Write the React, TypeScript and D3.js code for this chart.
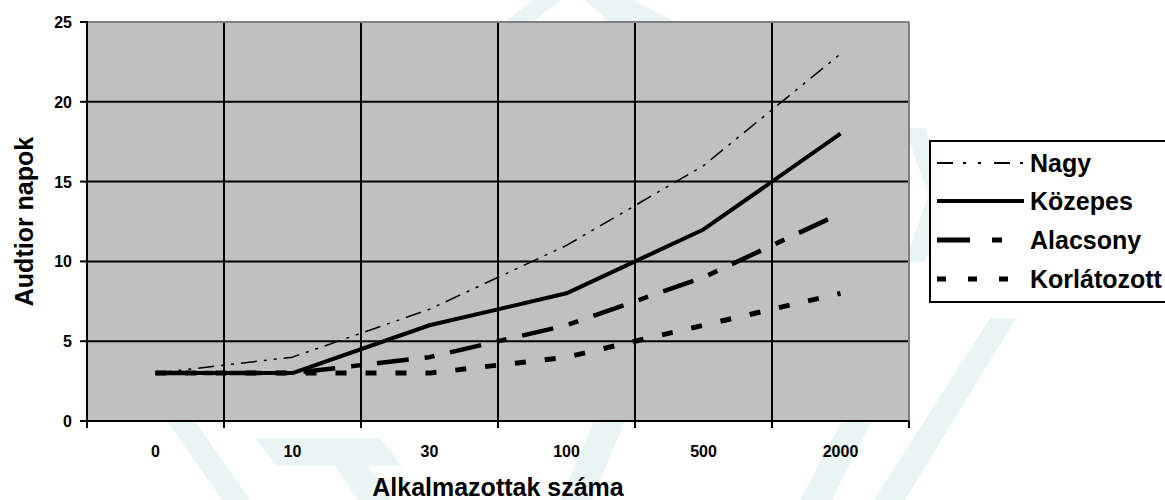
import * as d3 from "d3";

// categories and series
const categories = ["0", "10", "30", "100", "500", "2000"];
const nagy = [3, 4, 7, 11, 16, 23];
const kozepes = [3, 3, 6, 8, 12, 18];
const alacsony = [3, 3, 4, 6, 9, 13];
const korlatozott = [3, 3, 3, 4, 6, 8];
const yTicks = [0, 5, 10, 15, 20, 25];

const seriesNames = ["Nagy", "Közepes", "Alacsony", "Korlátozott"];
const seriesValues = [nagy, kozepes, alacsony, korlatozott];

const styles = [
  { width: 1.5, dash: "16 7 3 7 3 7", legendWidth: 2, legendDash: "16 10 3 12 3 13" },
  { width: 4, dash: "", legendWidth: 4, legendDash: "" },
  { width: 4.5, dash: "32 16 10 16", legendWidth: 5, legendDash: "33 22 10 23" },
  { width: 5, dash: "11 19", legendWidth: 5, legendDash: "9 22" },
];

// faint watermark bands (decoration only)
const watermark = [
  "504,22 533,22 561,0 533,0",
  "609,22 676,22 633,0 585,0",
  "167,421 195,421 250,500 222,500",
  "255,438 380,438 402,466 277,466",
  "335,466 368,466 392,500 358,500",
  "560,500 592,500 625,421 594,421",
  "800,500 832,500 872,421 842,421",
  "905,128 925,128 948,195 925,262 905,262 928,195",
  "990,318 1016,318 905,500 874,500",
];

const font = "'Liberation Sans', Arial, sans-serif";

export default function App() {
  const left = 87;
  const right = 909;
  const top = 22;
  const bottom = 421;

  const x = d3.scaleBand<string>().domain(categories).range([left, right]).padding(0);
  const y = d3.scaleLinear().domain([0, 25]).range([bottom, top]);
  const cx = (c: string) => (x(c) as number) + x.bandwidth() / 2;

  const line = d3
    .line<number>()
    .x((_, i) => cx(categories[i]))
    .y((d) => y(d));

  const boundaries = categories.map((c) => x(c) as number).concat([right]);

  const legendX = 930;
  const legendY = 141;
  const legendRows = [163, 201, 240, 279];

  return (
    <svg
      width={1165}
      height={500}
      style={{ position: "absolute", left: 0, top: 0, background: "#fff" }}
      fontFamily={font}
      fontWeight="bold"
    >
      {watermark.map((p, i) => (
        <polygon key={i} points={p} fill="#e9f4f4" />
      ))}

      {/* plot area */}
      <rect x={left} y={top} width={right - left} height={bottom - top} fill="#c0c0c0" />

      {/* horizontal grid */}
      {yTicks
        .filter((t) => t > 0 && t < 25)
        .map((t) => (
          <line key={t} x1={left} x2={right} y1={y(t)} y2={y(t)} stroke="#000" strokeWidth={2} />
        ))}
      {/* vertical grid */}
      {boundaries.slice(1, -1).map((b, i) => (
        <line key={i} x1={b} x2={b} y1={top} y2={bottom} stroke="#000" strokeWidth={2} />
      ))}

      {/* border top/right */}
      <line x1={left} x2={right} y1={top} y2={top} stroke="#808080" strokeWidth={2} />
      <line x1={right} x2={right} y1={top} y2={bottom} stroke="#808080" strokeWidth={2} />

      {/* series */}
      {seriesValues.map((vals, i) => (
        <path
          key={seriesNames[i]}
          d={line(vals) as string}
          fill="none"
          stroke="#000"
          strokeWidth={styles[i].width}
          strokeDasharray={styles[i].dash || undefined}
          strokeLinejoin="round"
        />
      ))}

      {/* axes */}
      <line x1={left} x2={left} y1={top - 1} y2={bottom + 1} stroke="#000" strokeWidth={2} />
      <line x1={left} x2={right} y1={bottom} y2={bottom} stroke="#000" strokeWidth={2} />
      {yTicks.map((t) => (
        <g key={t}>
          <line x1={left - 7} x2={left} y1={y(t)} y2={y(t)} stroke="#000" strokeWidth={2} />
          <text x={72} y={y(t) + 6} textAnchor="end" fontSize={16}>
            {t}
          </text>
        </g>
      ))}
      {boundaries.map((b, i) => (
        <line key={i} x1={b} x2={b} y1={bottom} y2={bottom + 7} stroke="#000" strokeWidth={2} />
      ))}
      {categories.map((c) => (
        <text key={c} x={cx(c)} y={457} textAnchor="middle" fontSize={16}>
          {c}
        </text>
      ))}

      {/* axis titles */}
      <text x={(left + right) / 2} y={496} textAnchor="middle" fontSize={25}>
        Alkalmazottak száma
      </text>
      <text
        transform={`translate(33, ${(top + bottom) / 2}) rotate(-90)`}
        textAnchor="middle"
        fontSize={25}
      >
        Audtior napok
      </text>

      {/* legend */}
      <rect x={legendX} y={legendY} width={260} height={161} fill="#fff" stroke="#000" strokeWidth={2} />
      {seriesNames.map((name, i) => (
        <g key={name}>
          <line
            x1={937}
            x2={1024}
            y1={legendRows[i]}
            y2={legendRows[i]}
            stroke="#000"
            strokeWidth={styles[i].legendWidth}
            strokeDasharray={styles[i].legendDash || undefined}
          />
          <text x={1030} y={legendRows[i] + 9} fontSize={25}>
            {name}
          </text>
        </g>
      ))}
    </svg>
  );
}
